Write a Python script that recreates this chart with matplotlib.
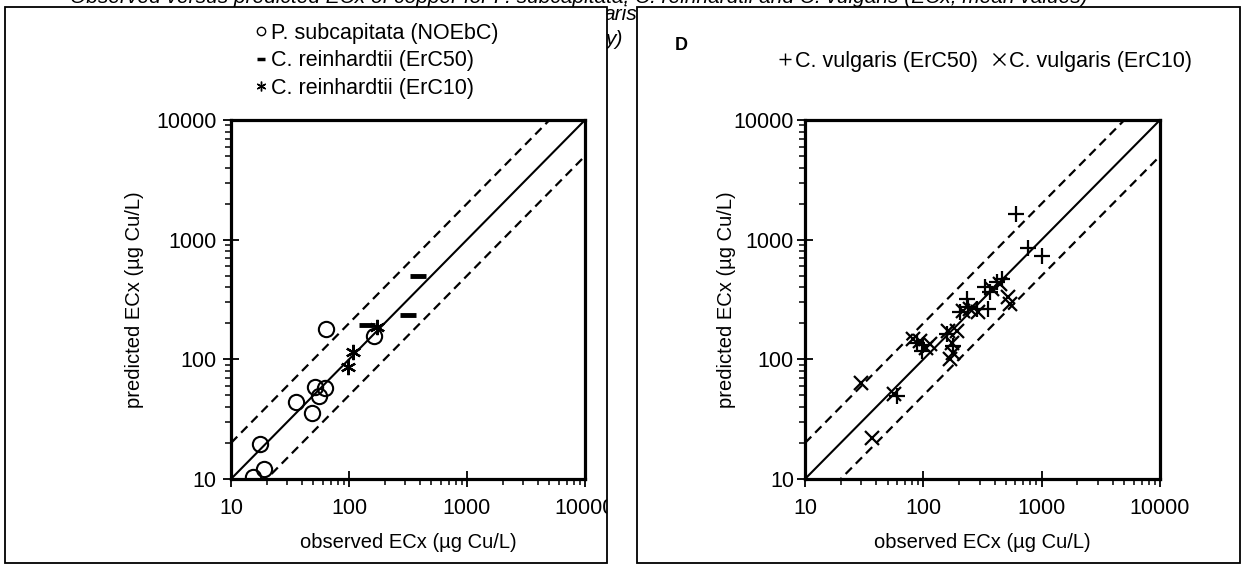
import matplotlib
matplotlib.use("Agg")
import matplotlib.pyplot as plt
from matplotlib.lines import Line2D
from matplotlib.patches import Rectangle
from matplotlib.ticker import FixedLocator, FuncFormatter, LogLocator, NullFormatter

plt.rcParams["font.family"] = ["Liberation Sans", "DejaVu Sans"]

# panel C: P. subcapitata / C. reinhardtii (observed vs predicted, ug Cu/L)
ps_obs = [15.5, 19.1, 17.6, 35.4, 49, 51.6, 56.2, 62, 64, 164]
ps_pred = [10.3, 12.1, 19.6, 44.3, 35.8, 59.2, 49.4, 57.3, 179, 157]
cr50_obs = [142, 382, 314]
cr50_pred = [194, 497, 235]
cr10_obs = [99, 108, 173]
cr10_pred = [87, 115, 188]

# panel D: C. vulgaris
cv50_obs = [60, 88, 99, 97, 158, 179, 204, 240, 283, 233, 354, 332, 417, 460, 366, 608, 762, 1014]
cv50_pred = [49, 138, 132, 117, 162, 129, 247, 272, 263, 319, 263, 401, 442, 470, 363, 1652, 851, 730]
cv10_obs = [30, 37, 56, 81, 93, 105, 114, 163, 192, 174, 168, 179, 218, 248, 292, 379, 445, 523, 541]
cv10_pred = [63, 22, 51, 149, 143, 125, 134, 173, 173, 138, 100, 114, 255, 263, 247, 388, 427, 330, 290]

lims = [10, 10000]
ticks = [10, 100, 1000, 10000]
xlabel = "observed ECx (µg Cu/L)"
ylabel = "predicted ECx (µg Cu/L)"

W, H = 1241, 565


def fx(x):
    return x / W


def fy(y):
    return 1 - y / H


fig = plt.figure(figsize=(W / 100, H / 100), dpi=100)

# caption fragments from the page behind the panels
cap_kw = dict(fontsize=15, style="italic", zorder=0.1, va="baseline")
fig.text(fx(70), fy(3), "Observed versus predicted ECx of copper for P. subcapitata, C. reinhardtii and C. vulgaris (ECx; mean values)",
         **cap_kw)
fig.text(fx(604), fy(20), "aris", **cap_kw)
fig.text(fx(605), fy(45), "y)", **cap_kw)

# white panel frames
box_l = Rectangle((fx(5), fy(563)), fx(607) - fx(5), fy(7) - fy(563), transform=fig.transFigure,
                  facecolor="white", edgecolor="black", lw=1.3, zorder=0.5)
box_r = Rectangle((fx(637), fy(563)), fx(1240) - fx(637), fy(7) - fy(563), transform=fig.transFigure,
                  facecolor="white", edgecolor="black", lw=1.3, zorder=0.5)
fig.add_artist(box_l)
fig.add_artist(box_r)

ax_c = fig.add_axes([fx(231), fy(479), fx(585) - fx(231), fy(120) - fy(479)])
ax_d = fig.add_axes([fx(805), fy(479), fx(1160) - fx(805), fy(120) - fy(479)])

for ax in (ax_c, ax_d):
    ax.set_zorder(1)
    ax.set_xscale("log")
    ax.set_yscale("log")
    ax.set_xlim(lims)
    ax.set_ylim(lims)
    ax.plot(lims, lims, color="black", lw=1.5, zorder=2)
    ax.plot(lims, [2 * v for v in lims], color="black", lw=1.6, ls=(0, (4, 2.5)), zorder=2)
    ax.plot(lims, [v / 2 for v in lims], color="black", lw=1.6, ls=(0, (4, 2.5)), zorder=2)
    for axis in (ax.xaxis, ax.yaxis):
        axis.set_major_locator(FixedLocator(ticks))
        axis.set_major_formatter(FuncFormatter(lambda v, p: f"{v:g}"))
        axis.set_minor_locator(LogLocator(base=10, subs=range(2, 10)))
        axis.set_minor_formatter(NullFormatter())
    ax.tick_params(which="major", direction="inout", length=11, width=1.3, labelsize=15.5)
    ax.tick_params(which="minor", direction="out", length=4, width=1.1)
    ax.tick_params(axis="x", which="major", pad=8)
    for s in ax.spines.values():
        s.set_linewidth(2.3)
    ax.set_xlabel(xlabel, fontsize=14.5)
    ax.set_ylabel(ylabel, fontsize=14.5)
    ax.xaxis.set_label_coords(0.5, (479 - 543) / 359)
    ax.xaxis.label.set_va("center")
    ax.yaxis.label.set_va("center")

ax_c.tick_params(axis="y", which="major", pad=5)
ax_d.tick_params(axis="y", which="major", pad=2.5)
ax_c.yaxis.set_label_coords((134 - 231) / 354, 0.5)
ax_d.yaxis.set_label_coords((727 - 805) / 355, 0.5)

# panel C points
ax_c.plot(ps_obs, ps_pred, ls="none", marker="o", ms=11, mfc="none", mec="black", mew=1.5, zorder=3)
ax_c.plot(cr50_obs, cr50_pred, ls="none", marker="_", ms=11, mec="black", mew=3.5, zorder=3)
ax_c.plot(cr10_obs, cr10_pred, ls="none", marker=(6, 2, 0), ms=11, mec="black", mew=1.6, zorder=3)

# panel D points
ax_d.plot(cv50_obs, cv50_pred, ls="none", marker="+", ms=11.5, mec="black", mew=1.6, zorder=3)
ax_d.plot(cv10_obs, cv10_pred, ls="none", marker="x", ms=10, mec="black", mew=1.6, zorder=3)

# clip the 10000 tick label at the left frame, as in the source
for t in ax_c.xaxis.get_major_ticks():
    t.label1.set_clip_path(box_l)

h_c = [
    Line2D([], [], ls="none", marker="o", ms=6, mfc="none", mec="black", mew=1.0),
    Line2D([], [], ls="none", marker="_", ms=6, mec="black", mew=2.5),
    Line2D([], [], ls="none", marker=(6, 2, 0), ms=7, mec="black", mew=1.0),
]
ax_c.legend(h_c, ["P. subcapitata (NOEbC)", "C. reinhardtii (ErC50)", "C. reinhardtii (ErC10)"],
            loc="upper left", bbox_to_anchor=(fx(255), fy(23)), bbox_transform=fig.transFigure,
            frameon=False, fontsize=15.5, handlelength=0.55, handletextpad=0.2, labelspacing=0.3,
            borderpad=0, borderaxespad=0)

h_d = [
    Line2D([], [], ls="none", marker="+", ms=9, mec="black", mew=1.0),
    Line2D([], [], ls="none", marker="x", ms=8, mec="black", mew=1.0),
]
ax_d.legend(h_d, ["C. vulgaris (ErC50)", "C. vulgaris (ErC10)"], ncol=2,
            loc="upper left", bbox_to_anchor=(fx(779), fy(51)), bbox_transform=fig.transFigure,
            frameon=False, fontsize=15.5, handlelength=0.55, handletextpad=0.2, columnspacing=0.7,
            borderpad=0, borderaxespad=0)

fig.text(fx(675), fy(45), "D", fontsize=13, fontweight="bold", va="center", zorder=3)

fig.savefig("out.png", dpi=100)
